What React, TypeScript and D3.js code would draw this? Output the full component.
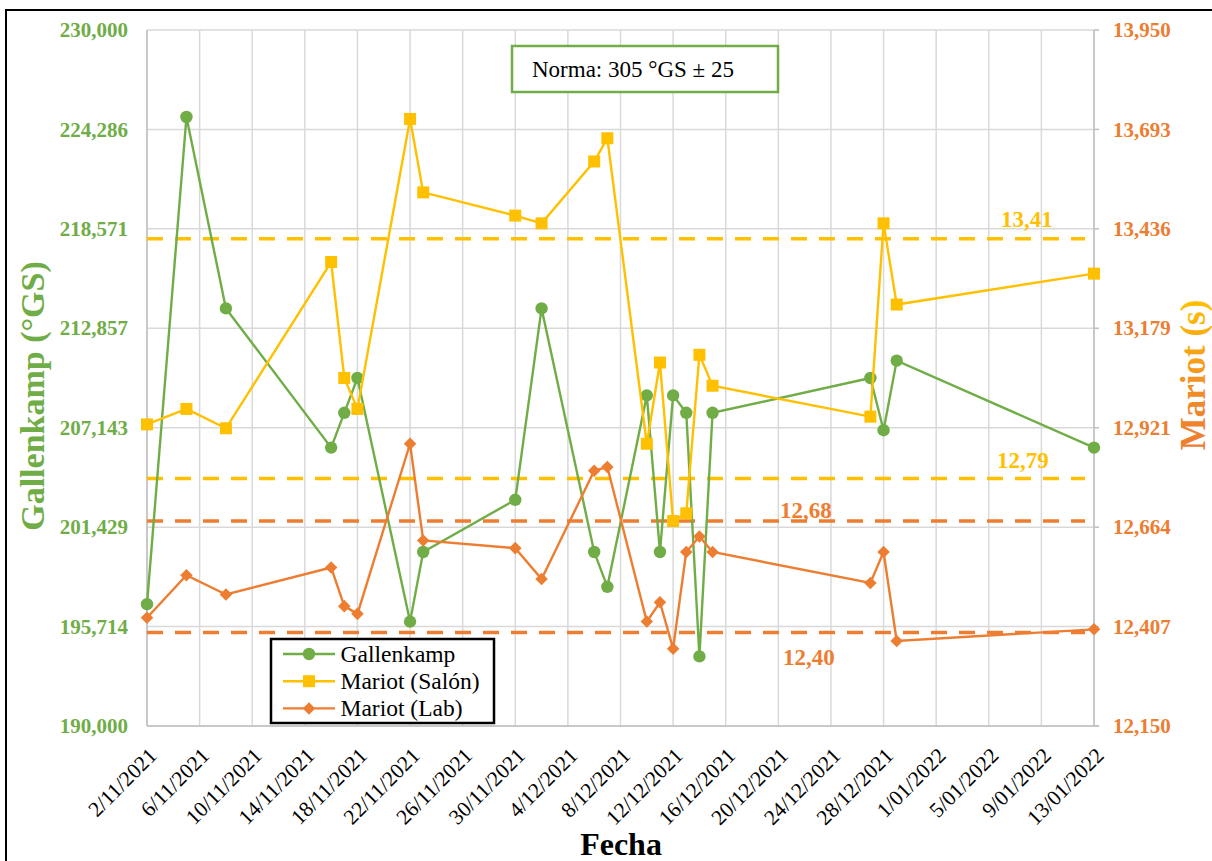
import React from "react";
import * as d3 from "d3";

const dates = [
  "2021-11-02", "2021-11-05", "2021-11-08", "2021-11-16", "2021-11-17", "2021-11-18",
  "2021-11-22", "2021-11-23", "2021-11-30", "2021-12-02", "2021-12-06", "2021-12-07",
  "2021-12-10", "2021-12-11", "2021-12-12", "2021-12-13", "2021-12-14", "2021-12-15",
  "2021-12-27", "2021-12-28", "2021-12-29", "2022-01-13",
];
const gallenkamp = [197, 225, 214, 206, 208, 210, 196, 200, 203, 214, 200, 198, 209, 200, 209, 208, 194, 208, 210, 207, 211, 206];
const mariotSalon = [12.93, 12.97, 12.92, 13.35, 13.05, 12.97, 13.72, 13.53, 13.47, 13.45, 13.61, 13.67, 12.88, 13.09, 12.68, 12.70, 13.11, 13.03, 12.95, 13.45, 13.24, 13.32];
const mariotLab = [12.43, 12.54, 12.49, 12.56, 12.46, 12.44, 12.88, 12.63, 12.61, 12.53, 12.81, 12.82, 12.42, 12.47, 12.35, 12.60, 12.64, 12.60, 12.52, 12.60, 12.37, 12.40];

const thresholdValues = [13.41, 12.79, 12.68, 12.392];
const thresholdLabels = ["13,41", "12,79", "12,68", "12,40"];
const thresholdKinds = ["salon", "salon", "lab", "lab"];

const legendLabels = ["Gallenkamp", "Mariot (Salón)", "Mariot (Lab)"];
const noteText = "Norma: 305 °GS ± 25";

const GREEN = "#70AD47";
const YELLOW = "#FFC000";
const ORANGE = "#ED7D31";
const FONT = "'Liberation Serif', 'Times New Roman', serif";

const parse = (s: string) => {
  const [y, m, d] = s.split("-").map(Number);
  return new Date(Date.UTC(y, m - 1, d));
};

export default function App() {
  const W = 1212, H = 861;
  const L = 147, R = 1094, T = 30, B = 726;
  const start = parse("2021-11-02");
  const end = parse("2022-01-13");
  const x = d3.scaleUtc().domain([start, end]).range([L, R]);
  const yL = d3.scaleLinear().domain([190, 230]).range([B, T]);
  const yR = d3.scaleLinear().domain([12.15, 13.95]).range([B, T]);

  const xTicks = d3.utcDay.range(start, d3.utcDay.offset(end, 1), 4);
  const leftTicks = d3.range(8).map((i) => 190 + (i * 40) / 7);
  const rightTicks = d3.range(8).map((i) => 12.15 + (i * 1.8) / 7);
  const fmt = (v: number) => v.toFixed(3).replace(".", ",");
  const fmtDate = (d: Date) =>
    `${d.getUTCDate()}/${String(d.getUTCMonth() + 1).padStart(2, "0")}/${d.getUTCFullYear()}`;

  const dts = dates.map(parse);
  const lineL = d3.line<number>().x((_, i) => x(dts[i])).y((v) => yL(v));
  const lineR = d3.line<number>().x((_, i) => x(dts[i])).y((v) => yR(v));

  const circle = d3.symbol(d3.symbolCircle, Math.PI * 6.2 * 6.2)()!;
  const square = d3.symbol(d3.symbolSquare, 144)()!;
  const diamond = d3.symbol(d3.symbolDiamond2, 100)()!;

  const legendX = 271, legendY = 639, legendW = 223, legendH = 84;
  const legendItems = [
    { label: legendLabels[0], color: GREEN, sym: circle },
    { label: legendLabels[1], color: YELLOW, sym: square },
    { label: legendLabels[2], color: ORANGE, sym: diamond },
  ];

  const threshLabelPos = [
    { x: 1001, y: 227 },
    { x: 997, y: 468 },
    { x: 780, y: 518 },
    { x: 783, y: 665 },
  ];

  return (
    <svg
      width={W}
      height={H}
      style={{ position: "absolute", left: 0, top: 0, background: "#fff" }}
      fontFamily={FONT}
    >
      <defs>
        <linearGradient id="rtitle" gradientUnits="userSpaceOnUse" x1="-75" y1="0" x2="75" y2="0">
          <stop offset="0" stopColor={ORANGE} />
          <stop offset="0.35" stopColor="#F08A28" />
          <stop offset="1" stopColor={YELLOW} />
        </linearGradient>
      </defs>
      <rect x={0} y={0} width={W} height={H} fill="#fff" />
      <rect x={6} y={10} width={1400} height={1000} fill="none" stroke="#000" strokeWidth={2} />

      {/* gridlines */}
      {leftTicks.map((t, i) => (
        <line key={"hg" + i} x1={L} x2={R} y1={yL(t)} y2={yL(t)} stroke="#D9D9D9" strokeWidth={1.5} />
      ))}
      {xTicks.map((t, i) => (
        <line key={"vg" + i} x1={x(t)} x2={x(t)} y1={T} y2={B} stroke="#D9D9D9" strokeWidth={1.5} />
      ))}
      {/* axes */}
      <line x1={L} x2={L} y1={T} y2={B} stroke="#BFBFBF" strokeWidth={1.5} />
      <line x1={L} x2={R + 5} y1={B} y2={B} stroke="#BFBFBF" strokeWidth={1.5} />
      <line x1={R} x2={R} y1={T} y2={B} stroke="#BFBFBF" strokeWidth={1.5} />
      {rightTicks.map((t, i) => (
        <line key={"rt" + i} x1={R} x2={R + 5} y1={yR(t)} y2={yR(t)} stroke="#BFBFBF" strokeWidth={1.5} />
      ))}

      {/* thresholds */}
      {thresholdValues.map((v, i) => (
        <line
          key={"th" + i}
          x1={L}
          x2={1085}
          y1={yR(v)}
          y2={yR(v)}
          stroke={thresholdKinds[i] === "salon" ? YELLOW : ORANGE}
          strokeWidth={3.5}
          strokeDasharray="16 12"
        />
      ))}

      {/* series */}
      <path d={lineL(gallenkamp)!} fill="none" stroke={GREEN} strokeWidth={2.4} />
      {gallenkamp.map((v, i) => (
        <path key={"gm" + i} d={circle} transform={`translate(${x(dts[i])},${yL(v)})`} fill={GREEN} />
      ))}
      <path d={lineR(mariotSalon)!} fill="none" stroke={YELLOW} strokeWidth={2.4} />
      {mariotSalon.map((v, i) => (
        <path key={"sm" + i} d={square} transform={`translate(${x(dts[i])},${yR(v)})`} fill={YELLOW} />
      ))}
      <path d={lineR(mariotLab)!} fill="none" stroke={ORANGE} strokeWidth={2.4} />
      {mariotLab.map((v, i) => (
        <path key={"lm" + i} d={diamond} transform={`translate(${x(dts[i])},${yR(v)})`} fill={ORANGE} />
      ))}

      {/* threshold labels */}
      {thresholdLabels.map((l, i) => (
        <text
          key={"tl" + i}
          x={threshLabelPos[i].x}
          y={threshLabelPos[i].y}
          fontSize={23}
          fontWeight="bold"
          fill={thresholdKinds[i] === "salon" ? YELLOW : ORANGE}
        >
          {l}
        </text>
      ))}

      {/* left tick labels */}
      {leftTicks.map((t, i) => (
        <text key={"ll" + i} x={128} y={yL(t)} dy="0.34em" textAnchor="end" fontSize={21} fontWeight="bold" fill={GREEN}>
          {fmt(t)}
        </text>
      ))}
      {/* right tick labels */}
      {rightTicks.map((t, i) => (
        <text key={"rl" + i} x={1113} y={yR(t)} dy="0.34em" textAnchor="start" fontSize={21} fontWeight="bold" fill={ORANGE}>
          {fmt(t)}
        </text>
      ))}
      {/* x tick labels */}
      {xTicks.map((t, i) => (
        <text
          key={"xl" + i}
          transform={`translate(${x(t) + 11},${757}) rotate(-45)`}
          textAnchor="end"
          fontSize={21.5}
          fill="#000"
        >
          {fmtDate(t)}
        </text>
      ))}

      {/* axis titles */}
      <text transform={`translate(44,396) rotate(-90)`} textAnchor="middle" fontSize={34} fontWeight="bold" fill={GREEN}>
        Gallenkamp (°GS)
      </text>
      <text transform={`translate(1205,375) rotate(-90)`} textAnchor="middle" fontSize={35} fontWeight="bold" fill="url(#rtitle)">
        Mariot (s)
      </text>
      <text x={621} y={855} textAnchor="middle" fontSize={32} fontWeight="bold" fill="#000">
        Fecha
      </text>

      {/* note box */}
      <rect x={512} y={46} width={266} height={46} fill="#fff" stroke={GREEN} strokeWidth={2.5} />
      <text x={532} y={77} fontSize={23} fill="#000">
        {noteText}
      </text>

      {/* legend */}
      <rect x={legendX} y={legendY} width={legendW} height={legendH} fill="#fff" stroke="#000" strokeWidth={2.5} />
      {legendItems.map((it, i) => {
        const cy = 654 + i * 27.2;
        return (
          <g key={"lg" + i}>
            <line x1={283} x2={335} y1={cy} y2={cy} stroke={it.color} strokeWidth={2.4} />
            <path d={it.sym} transform={`translate(309,${cy})`} fill={it.color} />
            <text x={340.5} y={cy} dy="0.33em" fontSize={23.5} fill="#000">
              {it.label}
            </text>
          </g>
        );
      })}
    </svg>
  );
}
